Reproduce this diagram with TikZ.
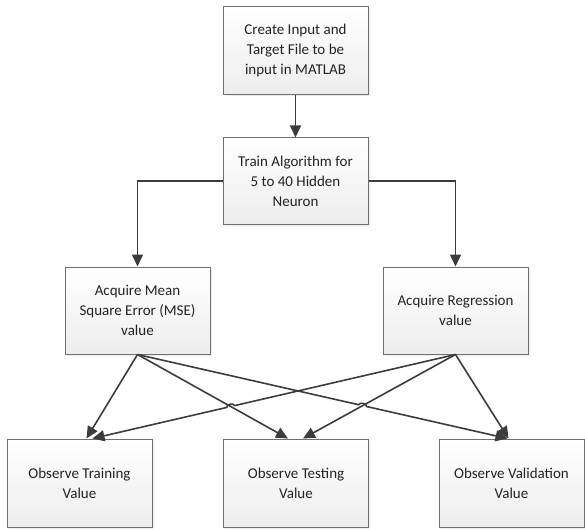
\documentclass[tikz,border=0pt]{standalone}
\usepackage{fontspec}
\setmainfont{Carlito}
\usetikzlibrary{arrows.meta, calc, intersections, shadows}
\definecolor{boxline}{RGB}{112,112,112}
\definecolor{arrowgray}{RGB}{60,60,60}
\definecolor{textgray}{RGB}{35,35,35}

\begin{document}
\begin{tikzpicture}[x=1pt, y=-1pt,
  flowbox/.style={draw=boxline, line width=1pt, rectangle, minimum width=145pt, minimum height=87pt,
    top color=white, bottom color=black!7, align=center, text=textgray,
    font=\fontsize{15}{20}\selectfont,
    drop shadow={opacity=0.15, shadow xshift=1.5pt, shadow yshift=-1.5pt}},
  flowarrow/.style={draw=arrowgray, line width=1.6pt, -{Triangle[length=12pt, width=11pt]}}]

\useasboundingbox (0,0) rectangle (585,529);

% Top steps
\node[flowbox, minimum height=88pt] (create) at (295.5,51) {Create Input and\\Target File to be\\input in MATLAB};
\node[flowbox, minimum height=86pt] (train) at (295.5,181) {Train Algorithm for\\5 to 40 Hidden\\Neuron};

% Acquired values
\node[flowbox] (mse) at (137.5,310.5) {Acquire Mean\\Square Error (MSE)\\value};
\node[flowbox] (reg) at (455.5,310.5) {Acquire Regression\\value};

% Observed values
\node[flowbox, minimum height=88pt] (trn) at (79.5,483) {Observe Training\\Value};
\node[flowbox, minimum height=88pt] (tst) at (296,483) {Observe Testing\\Value};
\node[flowbox, minimum height=88pt] (val) at (511.5,483) {Observe Validation\\Value};

% Arrow ends on the bottom boxes
\coordinate (trnA) at ($(trn.north)+(7,0)$);
\coordinate (trnB) at ($(trn.north)+(13,0)$);
\coordinate (tstA) at ($(tst.north)+(-8,0)$);
\coordinate (tstB) at ($(tst.north)+(7,0)$);
\coordinate (valA) at ($(val.north)+(-4,0)$);
\coordinate (valB) at ($(val.north)+(-3,0)$);

% Arrows
\draw[flowarrow] (create) -- (train);
\draw[flowarrow] (train.west) -| (mse.north);
\draw[flowarrow] (train.east) -| (reg.north);

\draw[flowarrow] (mse.south) -- (trnA);
\draw[flowarrow, name path=pb] (mse.south) -- (tstA);
\draw[flowarrow, name path=pe] (reg.south) -- (tstB);
\draw[flowarrow] (reg.south) -- (valB);

% Crossing arrows with line jumps
\path[name path=pd] (reg.south) -- (trnB);
\path[name path=pc] (mse.south) -- (valA);
\path[name intersections={of=pd and pb, by=jd}];
\path[name intersections={of=pc and pe, by=jc}];
\draw[flowarrow] (reg.south) -- ($(jd)!4pt!(reg.south)$) to[bend right=90] ($(jd)!4pt!(trnB)$) -- (trnB);
\draw[flowarrow] (mse.south) -- ($(jc)!4pt!(mse.south)$) to[bend left=90] ($(jc)!4pt!(valA)$) -- (valA);
\end{tikzpicture}
\end{document}
